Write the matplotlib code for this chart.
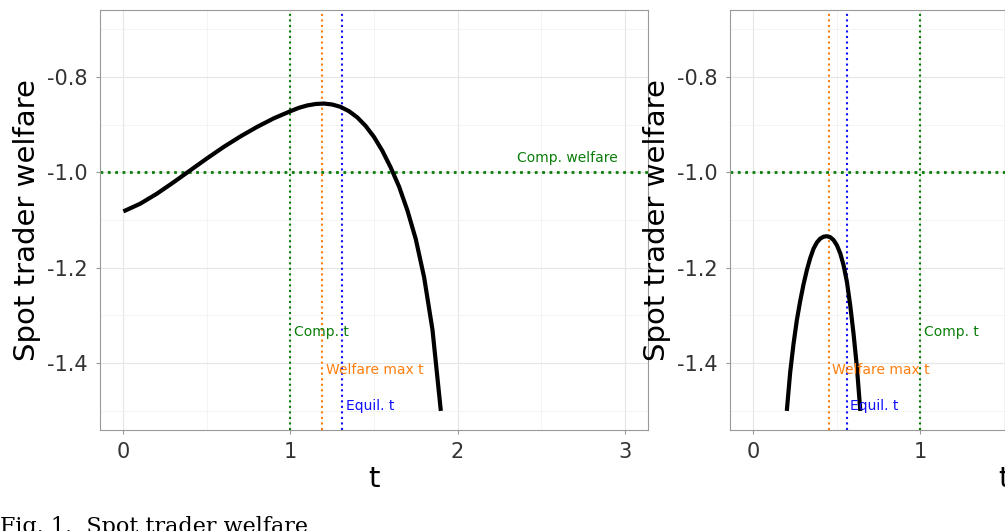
import matplotlib
matplotlib.use("Agg")
import matplotlib.pyplot as plt

# Left panel curve
t_left = [0.0, 0.1, 0.2, 0.3, 0.4, 0.5, 0.6, 0.7, 0.8, 0.9, 1.0, 1.05, 1.1, 1.15, 1.2, 1.25, 1.3, 1.35, 1.4, 1.45, 1.5, 1.55, 1.6, 1.65, 1.7, 1.75, 1.8, 1.85, 1.9]
w_left = [-1.082, -1.066, -1.045, -1.021, -0.996, -0.971, -0.947, -0.925, -0.905, -0.887, -0.872, -0.865, -0.86, -0.857, -0.856, -0.858, -0.863, -0.872, -0.885, -0.903, -0.926, -0.955, -0.99, -1.03, -1.08, -1.14, -1.22, -1.33, -1.5]
# Right panel curve
t_right = [0.2, 0.22, 0.24, 0.26, 0.28, 0.3, 0.32, 0.34, 0.36, 0.38, 0.4, 0.42, 0.44, 0.46, 0.48, 0.5, 0.52, 0.54, 0.56, 0.58, 0.6, 0.62, 0.64]
w_right = [-1.5, -1.42, -1.36, -1.31, -1.27, -1.235, -1.205, -1.18, -1.16, -1.147, -1.139, -1.135, -1.134, -1.136, -1.142, -1.153, -1.17, -1.195, -1.23, -1.28, -1.34, -1.41, -1.5]

comp_t = [1.0, 1.0]
welfare_max_t = [1.19, 0.45]
equil_t = [1.31, 0.56]
comp_welfare = -1.0
curves = [(t_left, w_left), (t_right, w_right)]

W, H = 1005, 531
fig = plt.figure(figsize=(W/100, H/100), dpi=100)
panels = [(100, 648), (730, 1278)]
GREEN, ORANGE, BLUE = "#0a7d0a", "#ff7f0e", "#1010ff"
for i, (x0, x1) in enumerate(panels):
    ax = fig.add_axes([x0/W, 1-430/H, (x1-x0)/W, 420/H])
    ax.set_xlim(-0.14, 3.14)
    ax.set_ylim(-1.54, -0.66)
    ax.set_xticks([0, 1, 2, 3])
    ax.set_yticks([-0.8, -1.0, -1.2, -1.4])
    ax.set_yticklabels(["-0.8", "-1.0", "-1.2", "-1.4"])
    ax.set_xticks([0.5, 1.5, 2.5], minor=True)
    ax.set_yticks([-0.7, -0.9, -1.1, -1.3, -1.5], minor=True)
    ax.grid(True, which="major", color="#e6e6e6", lw=0.8)
    ax.grid(True, which="minor", color="#f2f2f2", lw=0.6)
    ax.set_axisbelow(True)
    for s in ax.spines.values():
        s.set_color("#999999")
    ax.tick_params(which="both", length=0, labelsize=15, colors="#333333", pad=6)
    ax.tick_params(which="major", length=3, color="#999999")
    ax.set_ylabel("Spot trader welfare", fontsize=21)
    ax.set_xlabel("t", fontsize=21, labelpad=2)
    ax.axhline(comp_welfare, color=GREEN, ls=":", lw=2)
    ax.axvline(comp_t[i], color=GREEN, ls=":", lw=1.5)
    ax.axvline(welfare_max_t[i], color=ORANGE, ls=":", lw=1.5)
    ax.axvline(equil_t[i], color=BLUE, ls=":", lw=1.5)
    ax.plot(*curves[i], color="black", lw=3, solid_capstyle="butt")
    ax.text(comp_t[i]+0.02, -1.335, "Comp. t", color=GREEN, fontsize=10, va="center")
    ax.text(welfare_max_t[i]+0.02, -1.415, "Welfare max t", color=ORANGE, fontsize=10, va="center")
    ax.text(equil_t[i]+0.02, -1.49, "Equil. t", color=BLUE, fontsize=10, va="center")
    if i == 0:
        ax.text(2.66, -0.97, "Comp. welfare", color=GREEN, fontsize=10, ha="center", va="center")

fig.text(0.0, 4/H, "Fig. 1.  Spot trader welfare", fontsize=16, family="DejaVu Serif", va="center")
fig.savefig("out.png", dpi=100)
